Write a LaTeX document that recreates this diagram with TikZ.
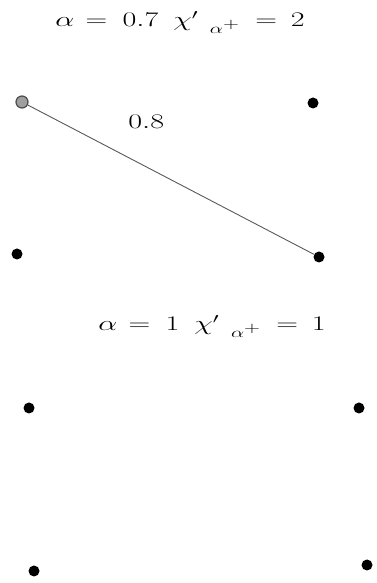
\documentclass[tikz,border=0pt]{standalone}
\newcommand{\gA}{\hspace{7.9pt}}
\newcommand{\gB}{\hspace{10.6pt}}
\newcommand{\gC}{\hspace{10.3pt}}
\newcommand{\gD}{\hspace{10.3pt}}
\newcommand{\gE}{\hspace{9.5pt}}
\newcommand{\chigrp}{${\chi'}\mkern7mu{}_{\lower2.5pt\hbox{$\scriptstyle\alpha^{\scriptstyle +}$}}$}
\begin{document}
\begin{tikzpicture}[x=1pt,y=1pt,
  dot/.style={circle,fill=black,inner sep=0pt,minimum size=11pt},
  gdot/.style={circle,fill=gray!75,draw=black!70,line width=1.2pt,inner sep=0pt,minimum size=12pt},
  lbl/.style={font=\fontsize{20}{24}\selectfont,inner sep=0pt,xscale=1.45,anchor=base west,text=black},
  edge/.style={draw=black!65,line width=0.9pt}]
\useasboundingbox (0,0) rectangle (376,583);
\node[lbl] (t1) at (55,556) {$\alpha$\gA$=$\gB$0.7$\gC\chigrp\gD$=$\gE$2$};
\node[gdot] (g) at (22,481) {};
\node[dot] (a) at (313,480) {};
\node[dot] (b) at (17,329) {};
\node[dot] (c) at (319,326) {};
\draw[edge] (g) -- (c);
\node[lbl] (w) at (128,454) {$0.8$};
\node[lbl] (t2) at (98,252) {$\alpha$\gA$=$\gB$1$\gC\chigrp\gD$=$\gE$1$};
\node[dot] (d) at (29,175) {};
\node[dot] (e) at (359,175) {};
\node[dot] (f) at (34,12) {};
\node[dot] (h) at (367,18) {};
\end{tikzpicture}
\end{document}
